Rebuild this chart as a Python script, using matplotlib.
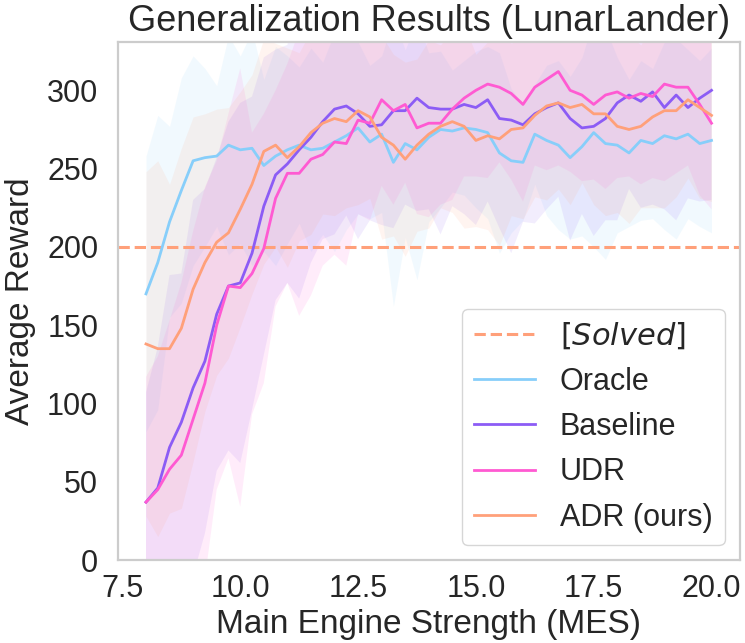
import numpy as np
import matplotlib
matplotlib.use("Agg")
import matplotlib.pyplot as plt

# ---------------- data ----------------
mes = np.arange(8.0, 20.0001, 0.25)

oracle_mean = [170, 190, 216, 236, 255, 257, 258, 265, 262, 263, 252, 258, 262, 265, 262, 263,
               267, 271, 276, 267, 272, 254, 266, 262, 270, 275, 274, 276, 275, 273, 260, 255,
               254, 272, 268, 265, 257, 264, 273, 266, 265, 260, 268, 266, 271, 269, 272, 266, 268]
oracle_std = [88, 94, 61, 72, 67, 57, 45, 70, 60, 75, 55, 70, 60, 50, 65, 55,
              70, 60, 55, 49, 50, 92, 60, 83, 54, 50, 39, 43, 50, 55, 64, 46,
              37, 32, 48, 54, 52, 57, 73, 74, 56, 47, 51, 48, 60, 64, 54, 53, 59]

baseline_mean = [37, 46, 72, 88, 110, 127, 157, 175, 177, 196, 226, 246, 253, 262, 270, 280,
                 288, 290, 285, 277, 278, 287, 287, 295, 289, 288, 288, 291, 289, 294, 282, 281,
                 278, 285, 289, 292, 282, 276, 277, 282, 292, 297, 293, 299, 289, 297, 289, 295, 300]
baseline_std = [70, 90, 110, 95, 120, 110, 100, 105, 115, 100, 95, 80, 76, 95, 80, 75,
                80, 70, 80, 60, 64, 75, 60, 72, 65, 80, 62, 70, 75, 65, 70, 85,
                62, 70, 65, 60, 78, 55, 70, 65, 75, 60, 68, 72, 65, 80, 58, 66, 70]

udr_mean = [37, 45, 58, 67, 90, 113, 150, 175, 174, 183, 199, 231, 247, 247, 256, 259,
            267, 266, 281, 279, 294, 287, 291, 276, 279, 279, 288, 295, 300, 304, 302, 298,
            291, 302, 307, 312, 300, 297, 291, 297, 299, 295, 298, 296, 304, 302, 302, 291, 279]
udr_std = [80, 85, 95, 110, 120, 125, 105, 110, 140, 90, 86, 69, 70, 91, 87, 71,
           72, 78, 60, 62, 55, 60, 50, 55, 60, 52, 58, 50, 55, 60, 48, 55,
           62, 50, 58, 60, 52, 55, 48, 60, 55, 50, 58, 52, 62, 55, 50, 58, 55]

adr_mean = [138, 135, 135, 148, 173, 190, 203, 209, 224, 240, 261, 265, 257, 264, 273, 279,
            282, 280, 287, 283, 270, 265, 256, 265, 272, 277, 280, 277, 268, 271, 269, 275,
            276, 284, 290, 292, 289, 291, 285, 285, 277, 275, 277, 283, 287, 287, 294, 289, 284]
adr_std = [110, 120, 105, 115, 110, 95, 85, 80, 75, 70, 72, 65, 70, 60, 65, 58,
           62, 55, 60, 52, 65, 58, 62, 55, 60, 52, 58, 65, 55, 60, 68, 55,
           58, 52, 60, 55, 62, 50, 58, 65, 55, 60, 52, 58, 62, 55, 50, 58, 55]

solved_level = 200

series = [
    ("Oracle", oracle_mean, oracle_std, "#87cefa"),
    ("Baseline", baseline_mean, baseline_std, "#8c5cf5"),
    ("UDR", udr_mean, udr_std, "#ff5ad2"),
    ("ADR (ours)", adr_mean, adr_std, "#ffa07a"),
]

# ---------------- style ----------------
plt.rcParams["font.family"] = ["Liberation Sans", "DejaVu Sans"]
plt.rcParams["text.color"] = "#262626"
plt.rcParams["axes.labelcolor"] = "#262626"
plt.rcParams["xtick.color"] = "#262626"
plt.rcParams["ytick.color"] = "#262626"

fig = plt.figure(figsize=(7.45, 6.43), dpi=100)
ax = fig.add_axes([0.158, 0.129, 0.835, 0.806])

ax.axhline(solved_level, ls="--", color="#ffa07a", lw=2.2, label="$[Solved]$")
for name, m, s, c in series:
    m = np.asarray(m, float)
    s = np.asarray(s, float)
    ax.fill_between(mes, m - s, m + s, color=c, alpha=0.11, lw=0)
    ax.plot(mes, m, color=c, lw=2.0, label=name)

ax.set_ylim(0, 331)
ax.set_xticks([7.5, 10.0, 12.5, 15.0, 17.5, 20.0])
ax.set_yticks([0, 50, 100, 150, 200, 250, 300])
ax.tick_params(axis="both", length=0, labelsize=22)
ax.tick_params(axis="y", pad=14)
ax.tick_params(axis="x", pad=10)
for sp in ax.spines.values():
    sp.set_color("#cccccc")
    sp.set_linewidth(1.6)

ax.set_xlabel("Main Engine Strength (MES)", fontsize=24, labelpad=4)
ax.set_ylabel("Average Reward", fontsize=24, labelpad=8)
ax.set_title("Generalization Results (LunarLander)", fontsize=26, pad=8)

leg = ax.legend(loc="lower right", fontsize=22, frameon=True, fancybox=True,
                borderaxespad=0.5)
leg.get_frame().set_edgecolor("#cccccc")

fig.savefig("out.png", dpi=100)
